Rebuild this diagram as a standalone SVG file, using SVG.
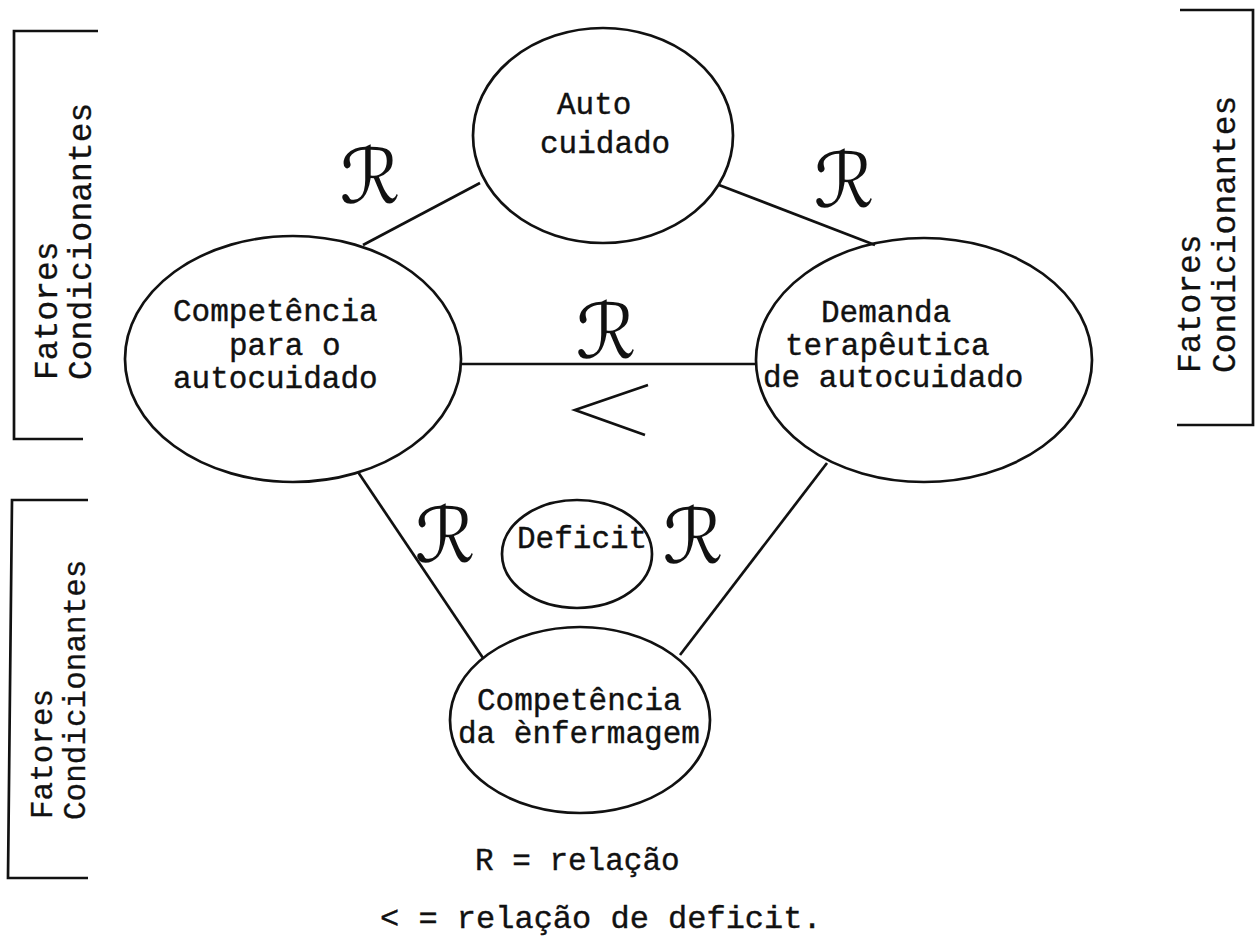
<svg xmlns="http://www.w3.org/2000/svg" width="1257" height="941" viewBox="0 0 1257 941">
<style>
.shape{fill:none;stroke:#111;stroke-width:2.7}
.t{font-family:"Liberation Mono","DejaVu Sans Mono",monospace;font-size:31px;fill:#111;stroke:#111;stroke-width:0.4}
.side{font-family:"Liberation Mono","DejaVu Sans Mono",monospace;font-size:33px;fill:#111;stroke:#111;stroke-width:0.3}
.r{font-family:"DejaVu Sans","DejaVu Serif",serif;font-size:76px;fill:#111;text-anchor:middle}
</style>
<rect width="1257" height="941" fill="#fff"/>
<g id="brackets">
<path class="shape" stroke-width="3" d="M98,31 L14,31 L14,439 L83,439"/>
<path class="shape" stroke-width="3" d="M88,500 L12,500 L8,878 L88,878"/>
<path class="shape" stroke-width="3" d="M1180,10 L1253,10 L1253,425 L1177,425"/>
</g>
<g id="fatores-top-left">
<text class="side" transform="translate(57,380) rotate(-90)">Fatores</text>
<text class="side" transform="translate(91,380) rotate(-90)">Condicionantes</text>
</g>
<g id="fatores-bottom-left">
<text class="side" style="font-size:31px" transform="translate(52,819) rotate(-90)">Fatores</text>
<text class="side" style="font-size:31px" transform="translate(85,820) rotate(-90)">Condicionantes</text>
</g>
<g id="fatores-right">
<text class="side" transform="translate(1200,373) rotate(-90)">Fatores</text>
<text class="side" transform="translate(1235,373) rotate(-90)">Condicionantes</text>
</g>
<g id="connectors">
<line class="shape" x1="363" y1="245" x2="480" y2="183"/>
<line class="shape" x1="719" y1="185" x2="875" y2="245"/>
<line class="shape" x1="462" y1="364" x2="756" y2="364"/>
<line class="shape" x1="358" y1="472" x2="483" y2="658"/>
<line class="shape" x1="827" y1="463" x2="680" y2="655"/>
<polyline class="shape" points="648,385 575,410 645,435"/>
</g>
<g id="relation-labels">
<text class="r" x="370" y="203">ℛ</text>
<text class="r" x="844" y="207">ℛ</text>
<text class="r" x="606" y="358">ℛ</text>
<text class="r" x="445" y="562">ℛ</text>
<text class="r" x="693" y="563">ℛ</text>
</g>
<g id="autocuidado">
<ellipse class="shape" cx="603" cy="135.5" rx="130" ry="107.5"/>
<text class="t" x="557" y="114">Auto</text>
<text class="t" x="540" y="153">cuidado</text>
</g>
<g id="competencia-autocuidado">
<ellipse class="shape" cx="293" cy="359" rx="168" ry="123"/>
<text class="t" x="173" y="321">Competência</text>
<text class="t" x="229" y="355">para o</text>
<text class="t" x="173" y="388">autocuidado</text>
</g>
<g id="demanda">
<ellipse class="shape" cx="924" cy="360" rx="168" ry="122"/>
<text class="t" x="821" y="322">Demanda</text>
<text class="t" x="785" y="355">terapêutica</text>
<text class="t" x="763" y="387">de autocuidado</text>
</g>
<g id="deficit">
<ellipse class="shape" cx="577" cy="554" rx="75" ry="54"/>
<text class="t" x="517" y="548">Deficit</text>
</g>
<g id="competencia-enfermagem">
<ellipse class="shape" cx="580" cy="720" rx="130" ry="93"/>
<text class="t" x="477" y="710">Competência</text>
<text class="t" x="458" y="743">da ènfermagem</text>
</g>
<g id="legend">
<text class="t" x="475" y="870">R = relação</text>
<text class="t" style="font-size:32px" x="380" y="928">&lt; = relação de deficit.</text>
</g>
</svg>
